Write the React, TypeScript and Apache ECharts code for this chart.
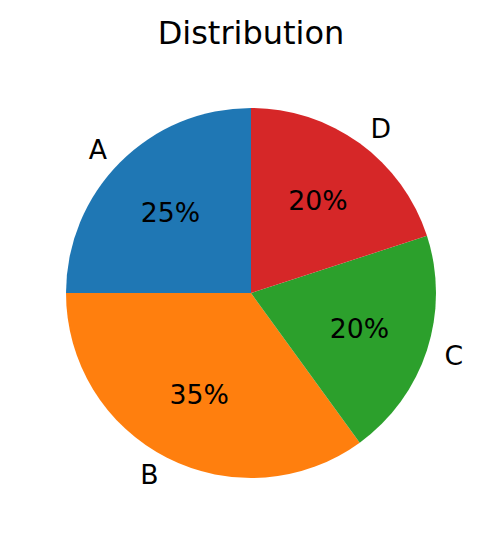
import { useEffect, useRef } from 'react';
import * as echarts from 'echarts';

const categories = ['A', 'B', 'C', 'D'];
const shares = [25, 35, 20, 20];
const colors = ['#1f77b4', '#ff7f0e', '#2ca02c', '#d62728'];

const FONT = '"DejaVu Sans", sans-serif';

export default function App() {
  const elRef = useRef<HTMLDivElement | null>(null);

  useEffect(() => {
    document.body.style.margin = '0';
    if (!elRef.current) return;
    const chart = echarts.init(elRef.current, undefined, { renderer: 'svg' });

    const slices = categories.map((name, i) => ({
      name,
      value: shares[i],
      itemStyle: { color: colors[i] },
    }));

    chart.setOption({
      animation: false,
      backgroundColor: '#ffffff',
      title: {
        text: 'Distribution',
        left: 'center',
        top: 17,
        padding: 0,
        textStyle: { fontFamily: FONT, fontSize: 32, fontWeight: 'normal', color: '#000' },
      },
      series: [
        {
          type: 'pie',
          center: [251, 293],
          radius: [0, 185],
          startAngle: 90,
          clockwise: false,
          avoidLabelOverlap: false,
          silent: true,
          data: slices,
          label: {
            show: true,
            position: 'outside',
            formatter: '{b}',
            distanceToLabelLine: 0,
            fontFamily: FONT,
            fontSize: 26.7,
            color: '#000',
          },
          labelLine: { show: false, length: 18.5, length2: 0 },
          emphasis: { disabled: true },
        },
        {
          type: 'pie',
          center: [251, 293],
          radius: [0, 222],
          startAngle: 90,
          clockwise: false,
          avoidLabelOverlap: false,
          silent: true,
          data: categories.map((name, i) => ({ name, value: shares[i] })),
          itemStyle: { color: 'transparent' },
          label: {
            show: true,
            position: 'inside',
            formatter: '{c}%',
            fontFamily: FONT,
            fontSize: 26.7,
            color: '#000',
          },
          labelLine: { show: false },
          emphasis: { disabled: true },
        },
      ],
    });

    return () => {
      chart.dispose();
    };
  }, []);

  return <div ref={elRef} style={{ width: 502, height: 544 }} />;
}
